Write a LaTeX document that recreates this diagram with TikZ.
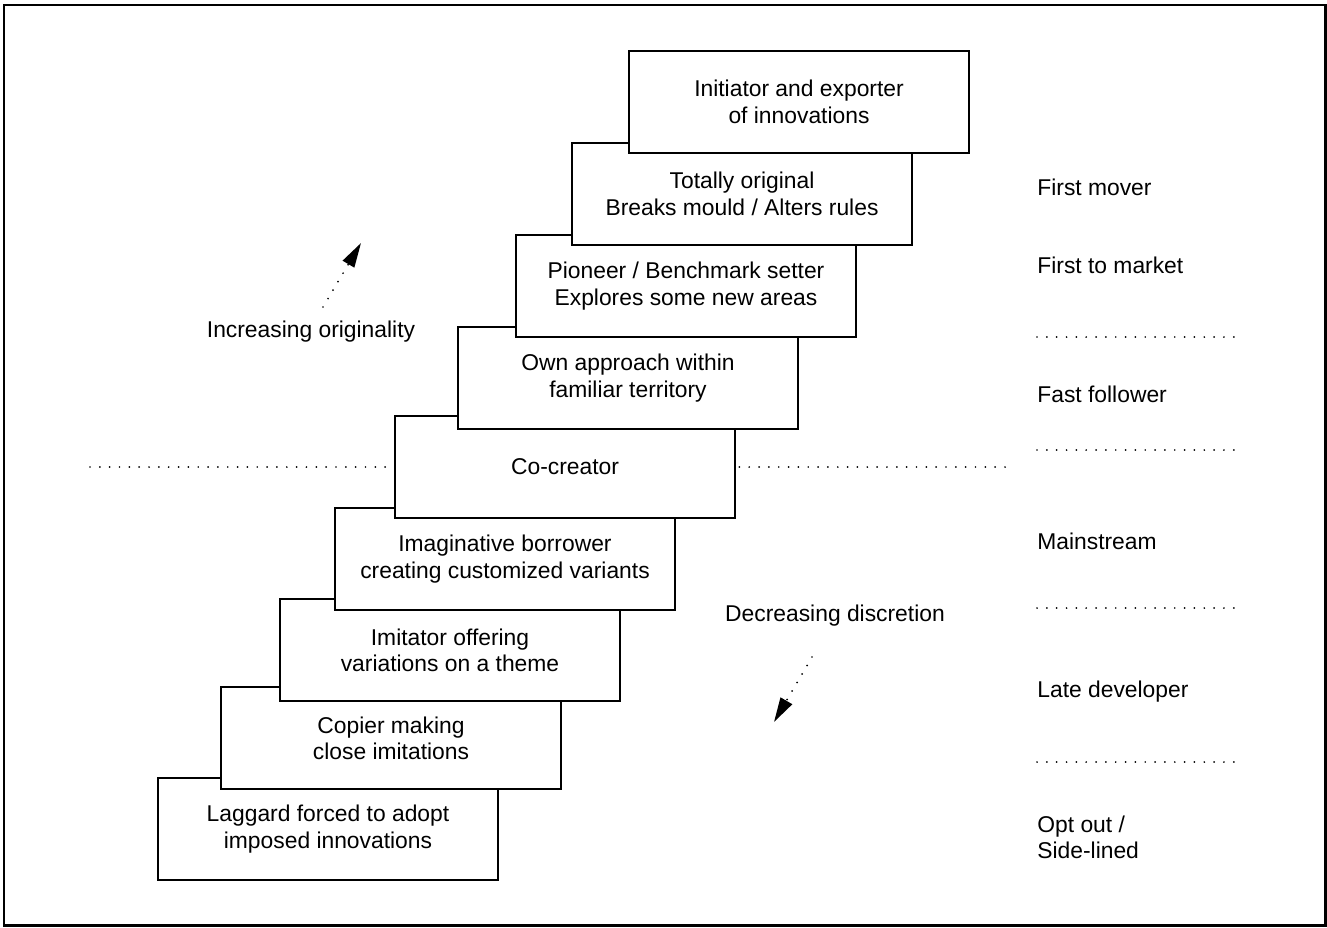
\documentclass[tikz,border=0pt]{standalone}
\usepackage{fontspec}
\setmainfont{Liberation Sans}
\usepackage{tikz}
\usetikzlibrary{arrows.meta, positioning}

\tikzset{
  stepbox/.style={draw, fill=white, line width=0.9pt, minimum width=6.8cm,
    minimum height=2.04cm, inner sep=0pt, align=center,
    font=\fontsize{13}{15}\selectfont},
  sidelabel/.style={anchor=west, align=left, inner sep=0pt,
    font=\fontsize{13}{15}\selectfont},
  dotline/.style={line width=1.1pt, line cap=round, dash pattern=on 0pt off 5.6pt},
  trendarrow/.style={dotline, -{Triangle[length=14pt, width=7.5pt]}}
}

\begin{document}
\begin{tikzpicture}[x=0.02cm, y=-0.02cm]
\useasboundingbox (0,0) rectangle (1327,927);
% Frame
\draw[line width=1.6pt] (4,5) rectangle (1325.5,925.5);

% Dividing line through the co-creator level
\draw[dotline] (90,467) -- (1010,467);

% Right hand dividers
\draw[dotline] (1037,337) -- (1240,337);
\draw[dotline] (1037,450) -- (1240,450);
\draw[dotline] (1037,608) -- (1240,608);
\draw[dotline] (1037,762) -- (1240,762);

% Staircase, bottom step first
\node[stepbox] (laggard) at (328,829) {Laggard forced to adopt\\imposed innovations};
\node[stepbox] (copier) at (391,738) {Copier making\\close imitations};
\node[stepbox] (imitator) at (450,650) {Imitator offering\\variations on a theme};
\node[stepbox] (borrower) at (505,559) {Imaginative borrower\\creating customized variants};
\node[stepbox] (cocreator) at (565,467) {Co-creator};
\node[stepbox] (ownapproach) at (628,378) {Own approach within\\familiar territory};
\node[stepbox] (pioneer) at (686,286) {Pioneer / Benchmark setter\\Explores some new areas};
\node[stepbox] (original) at (742,194) {Totally original\\Breaks mould / Alters rules};
\node[stepbox] (initiator) at (799,102) {Initiator and exporter\\of innovations};

% Right hand labels
\node[sidelabel] (firstmover) at (1037,187) {First mover};
\node[sidelabel] (firstmarket) at (1037,265) {First to market};
\node[sidelabel] (fastfollower) at (1037,394) {Fast follower};
\node[sidelabel] (mainstream) at (1037,541) {Mainstream};
\node[sidelabel] (latedev) at (1037,692) {Late developer};
\node[sidelabel] (optout) at (1037,837) {Opt out /\\Side-lined};

% Trend arrows
\node[sidelabel, anchor=center] (originality) at (311,332) {Increasing originality};
\coordinate (upstart) at (323,307);
\coordinate (uptip) at (361,243);
\draw[trendarrow] (upstart) -- (uptip);

\node[sidelabel, anchor=center] (discretion) at (835,616) {Decreasing discretion};
\coordinate (downstart) at (812,657);
\coordinate (downtip) at (774,722);
\draw[trendarrow] (downstart) -- (downtip);
\end{tikzpicture}
\end{document}
